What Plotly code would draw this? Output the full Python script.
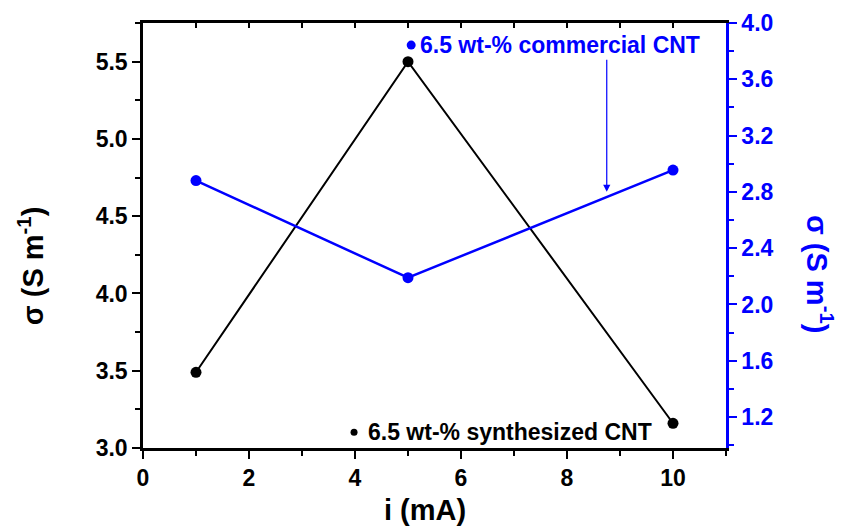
import plotly.graph_objects as go

current_mA = [1, 5, 10]
sigma_synth = [3.49, 5.50, 3.16]
sigma_comm = [2.88, 2.19, 2.955]
x_ticks = [0, 2, 4, 6, 8, 10]
left_ticks = [3.0, 3.5, 4.0, 4.5, 5.0, 5.5]
right_ticks = [1.2, 1.6, 2.0, 2.4, 2.8, 3.2, 3.6, 4.0]
label_synth = "6.5 wt-% synthesized CNT"
label_comm = "6.5 wt-% commercial CNT"

FONT = "Liberation Sans"
BLUE = "#0000FF"

fig = go.Figure()
fig.add_trace(go.Scatter(x=current_mA, y=sigma_synth, mode="lines+markers",
                         line=dict(color="black", width=2),
                         marker=dict(color="black", size=11), showlegend=False))
fig.add_trace(go.Scatter(x=current_mA, y=sigma_comm, mode="lines+markers", yaxis="y2",
                         line=dict(color=BLUE, width=2.5),
                         marker=dict(color=BLUE, size=11), showlegend=False))
# invisible trace to activate top axis
fig.add_trace(go.Scatter(x=[0, 11], y=[3, 3], xaxis="x2", mode="none", showlegend=False, hoverinfo="skip"))

tickfont = dict(family=FONT, size=23, weight="bold", color="black")

fig.update_layout(
    template="none",
    width=849, height=529,
    margin=dict(l=143, r=123, t=23, b=81),
    plot_bgcolor="white", paper_bgcolor="white",
    xaxis=dict(range=[0, 11], tickvals=x_ticks, ticks="outside", ticklen=8, tickwidth=2,
               minor=dict(dtick=1, tick0=0, ticks="outside", ticklen=5, tickwidth=2, tickcolor="black"),
               showline=True, linecolor="black", linewidth=2.5, showgrid=False, zeroline=False,
               tickfont=tickfont, tickcolor="black", automargin=False),
    xaxis2=dict(range=[0, 11], overlaying="x", side="top", ticks="inside", ticklen=5, tickwidth=2,
                dtick=1, tick0=0, showticklabels=False, showline=True, linecolor="black",
                linewidth=3, showgrid=False, zeroline=False, tickcolor="black", automargin=False),
    yaxis=dict(range=[3.0, 5.75], tickvals=left_ticks, ticktext=[f"{v:.1f}" for v in left_ticks],
               ticks="outside", ticklen=8, tickwidth=2,
               minor=dict(dtick=0.25, tick0=3.0, ticks="outside", ticklen=5, tickwidth=2, tickcolor="black"),
               showline=True, linecolor="black", linewidth=2.5, showgrid=False, zeroline=False,
               tickfont=tickfont, tickcolor="black", automargin=False),
    yaxis2=dict(range=[0.98, 4.0], overlaying="y", side="right", tickvals=right_ticks,
                ticktext=[f"{v:.1f}" for v in right_ticks],
                ticks="outside", ticklen=8, tickwidth=2, tickcolor=BLUE,
                minor=dict(dtick=0.2, tick0=0, ticks="outside", ticklen=5, tickwidth=2, tickcolor=BLUE),
                showline=True, linecolor=BLUE, linewidth=2.5, showgrid=False, zeroline=False,
                tickfont=dict(family=FONT, size=23, weight="bold", color=BLUE), automargin=False),
)

title_font = dict(family=FONT, size=29, weight="bold", color="black")
fig.add_annotation(text="σ (S m<sup>-1</sup>)", xref="paper", yref="paper", x=-0.192, y=0.428,
                   xanchor="center", yanchor="middle",
                   textangle=-90, showarrow=False, font=title_font)
fig.add_annotation(text="σ (S m<sup>-1</sup>)", xref="paper", yref="paper", x=1.161, y=0.41,
                   xanchor="center", yanchor="middle",
                   textangle=90, showarrow=False, font=dict(family=FONT, size=29, weight="bold", color=BLUE))
fig.add_annotation(text="i (mA)", xref="paper", yref="paper", x=0.484, y=-0.146,
                   xanchor="center", yanchor="middle",
                   showarrow=False, font=title_font)

# series label dots
fig.add_shape(type="circle", xref="paper", yref="paper", xsizemode="pixel", ysizemode="pixel",
              xanchor=0.46, yanchor=0.948, x0=-4.5, x1=4.5, y0=-4.5, y1=4.5,
              fillcolor=BLUE, line=dict(width=0))
fig.add_shape(type="circle", xref="paper", yref="paper", xsizemode="pixel", ysizemode="pixel",
              xanchor=0.362, yanchor=0.037, x0=-3.5, x1=3.5, y0=-3.5, y1=3.5,
              fillcolor="black", line=dict(width=0))
fig.add_annotation(text=label_comm, xref="paper", yref="paper", x=0.4717, y=0.948,
                   xanchor="left", yanchor="middle",
                   showarrow=False, font=dict(family=FONT, size=23, weight="bold", color=BLUE))
fig.add_annotation(text=label_synth, xref="paper", yref="paper", x=0.3825, y=0.037,
                   xanchor="left", yanchor="middle",
                   showarrow=False, font=dict(family=FONT, size=23, weight="bold", color="black"))

# arrow
fig.add_annotation(x=8.75, y=2.80, xref="x", yref="y2", ax=8.75, ay=3.75, axref="x", ayref="y2",
                   showarrow=True, arrowhead=2, arrowsize=1.2, arrowwidth=1.2, arrowcolor=BLUE, text="")

fig.write_html("out.html", config={"displayModeBar": False},
               post_script="document.body.style.margin='0';")
